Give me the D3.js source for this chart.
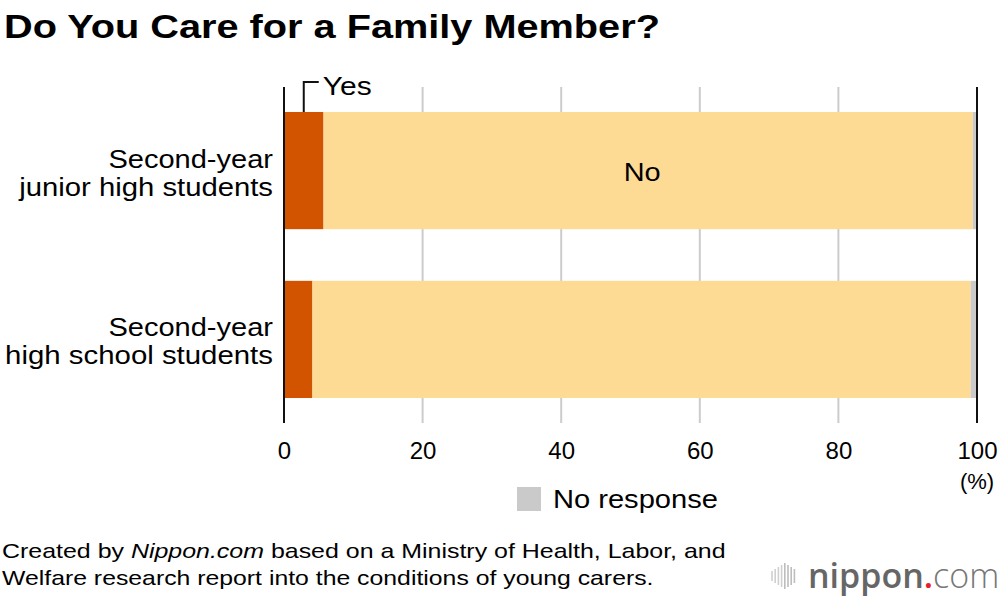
<!DOCTYPE html>
<html>
<head>
<meta charset="utf-8">
<script src="https://cdn.jsdelivr.net/npm/d3@7"></script>
<style>
  body { margin: 0; background: #fff; }
  svg { display: block; font-family: "Liberation Sans", Arial, Helvetica, sans-serif; }
</style>
</head>
<body>
<svg width="1000" height="598"></svg>
<script>
// данные
const categories = [
    ["Second-year", "junior high students"],
    ["Second-year", "high school students"]
];
const yesValues = [5.7, 4.1];
const noValues = [93.7, 95.0];
const noResponseValues = [0.6, 0.9];
const tickValues = [0, 20, 40, 60, 80, 100];
const seriesNames = ["Yes", "No", "No response"];
const colors = ["#d35400", "#fddb95", "#cacaca"];

const svg = d3.select("svg");

const area = { left: 284, right: 977, top: 87, bottom: 423 };

// растянуть текст по ширине (шрифт в оригинале шире)
function fitWidth(sel, target) {
    const bb = sel.node().getBBox();
    const k = target / bb.width;
    const anchor = sel.attr("text-anchor");
    const ox = anchor === "end" ? bb.x + bb.width : anchor === "middle" ? bb.x + bb.width / 2 : bb.x;
    sel.attr("transform", `translate(${ox},0) scale(${k},1) translate(${-ox},0)`);
    return sel;
}

const scX = d3.scaleLinear().domain([0, 100]).range([area.left, area.right]);
const scY = d3.scaleBand()
    .domain(d3.range(categories.length))
    .range([area.top, area.bottom])
    .paddingInner(0.306)
    .paddingOuter(0.148);

// заголовок
fitWidth(svg.append("text")
    .attr("x", 4).attr("y", 38)
    .attr("font-size", 33).attr("font-weight", "bold")
    .text("Do You Care for a Family Member?"), 656);

// сетка
svg.selectAll(".grid")
    .data(tickValues.filter(d => d > 0 && d < 100)).enter()
    .append("line")
    .attr("x1", d => scX(d)).attr("x2", d => scX(d))
    .attr("y1", area.top).attr("y2", area.bottom)
    .attr("stroke", "#cccccc").attr("stroke-width", 2);

// стековые данные
const rows = categories.map((c, i) => ({ i, yes: yesValues[i], no: noValues[i], nr: noResponseValues[i] }));
const stack = d3.stack().keys(["yes", "no", "nr"])(rows);

stack.forEach((layer, k) => {
    svg.selectAll(".bar-" + k)
        .data(layer).enter()
        .append("rect")
        .attr("x", d => scX(d[0]))
        .attr("y", d => scY(d.data.i))
        .attr("width", d => scX(d[1]) - scX(d[0]))
        .attr("height", scY.bandwidth())
        .attr("fill", colors[k]);
});

// оси 0 и 100
[0, 100].forEach(v => {
    svg.append("line")
        .attr("x1", scX(v)).attr("x2", scX(v))
        .attr("y1", area.top).attr("y2", area.bottom)
        .attr("stroke", "#111").attr("stroke-width", 2);
});

// подписи категорий
const labelWidths = [[165, 255], [165, 268]];
categories.forEach((lines, i) => {
    const cy = scY(i) + scY.bandwidth() / 2;
    lines.forEach((l, j) => {
        fitWidth(svg.append("text")
            .attr("text-anchor", "end")
            .attr("font-size", 26)
            .attr("x", 273)
            .attr("y", cy - 3 + j * 28)
            .text(l), labelWidths[i][j]);
    });
});

// подписи оси X
const axisX = d3.axisBottom(scX).tickValues(tickValues).tickSize(0).tickPadding(0);
const gx = svg.append("g")
    .attr("transform", `translate(0, ${area.bottom})`)
    .call(axisX);
gx.select(".domain").remove();
gx.selectAll("text")
    .attr("font-size", 24)
    .attr("font-family", null)
    .attr("fill", "#000")
    .attr("dy", null)
    .attr("y", 36);

svg.append("text")
    .attr("x", scX(100)).attr("y", 489)
    .attr("text-anchor", "middle").attr("font-size", 22)
    .text("(%)");

// метка "No"
fitWidth(svg.append("text")
    .attr("x", scX(yesValues[0] + noValues[0] / 2) - 6)
    .attr("y", scY(0) + scY.bandwidth() / 2 + 10)
    .attr("text-anchor", "middle").attr("font-size", 26)
    .text(seriesNames[1]), 37);

// метка "Yes" со скобкой
const yx = scX(yesValues[0] / 2);
const yTop = scY(0);
svg.append("path")
    .attr("d", `M${yx},${yTop} V${yTop - 30} H${yx + 15}`)
    .attr("fill", "none").attr("stroke", "#111").attr("stroke-width", 2);
fitWidth(svg.append("text")
    .attr("x", yx + 19).attr("y", yTop - 17)
    .attr("font-size", 26)
    .text(seriesNames[0]), 49);

// легенда
svg.append("rect")
    .attr("x", 517).attr("y", 487).attr("width", 24).attr("height", 24)
    .attr("fill", colors[2]);
fitWidth(svg.append("text")
    .attr("x", 553).attr("y", 508)
    .attr("font-size", 26)
    .text(seriesNames[2]), 165);

// источник
const note = svg.append("text").attr("font-size", 21).attr("x", 2).attr("y", 558);
note.append("tspan").text("Created by ");
note.append("tspan").attr("font-style", "italic").text("Nippon.com");
note.append("tspan").text(" based on a Ministry of Health, Labor, and");
fitWidth(note, 724);
fitWidth(svg.append("text").attr("font-size", 21).attr("x", 2).attr("y", 585)
    .text("Welfare research report into the conditions of young carers."), 652);

// логотип
const logo = svg.append("g").attr("transform", "translate(772, 563)");
[10, 14, 18, 22, 26, 22, 18, 14].forEach((h, i) => {
    logo.append("line")
        .attr("x1", i * 3.2).attr("x2", i * 3.2)
        .attr("y1", 13 - h / 2).attr("y2", 13 + h / 2)
        .attr("stroke", i < 4 ? "#cfcfcf" : "#bdbdbd").attr("stroke-width", 1.6);
});
const lt = svg.append("text")
    .attr("x", 808).attr("y", 588)
    .attr("font-family", "'Open Sans', sans-serif")
    .attr("font-size", 34).attr("fill", "#666");
lt.append("tspan").attr("font-weight", 600).text("nippon");
lt.append("tspan").attr("fill", "#e8202a").attr("font-weight", 600).text(".");
lt.append("tspan").attr("font-weight", 300).attr("fill", "#777").text("com");
</script>
</body>
</html>
